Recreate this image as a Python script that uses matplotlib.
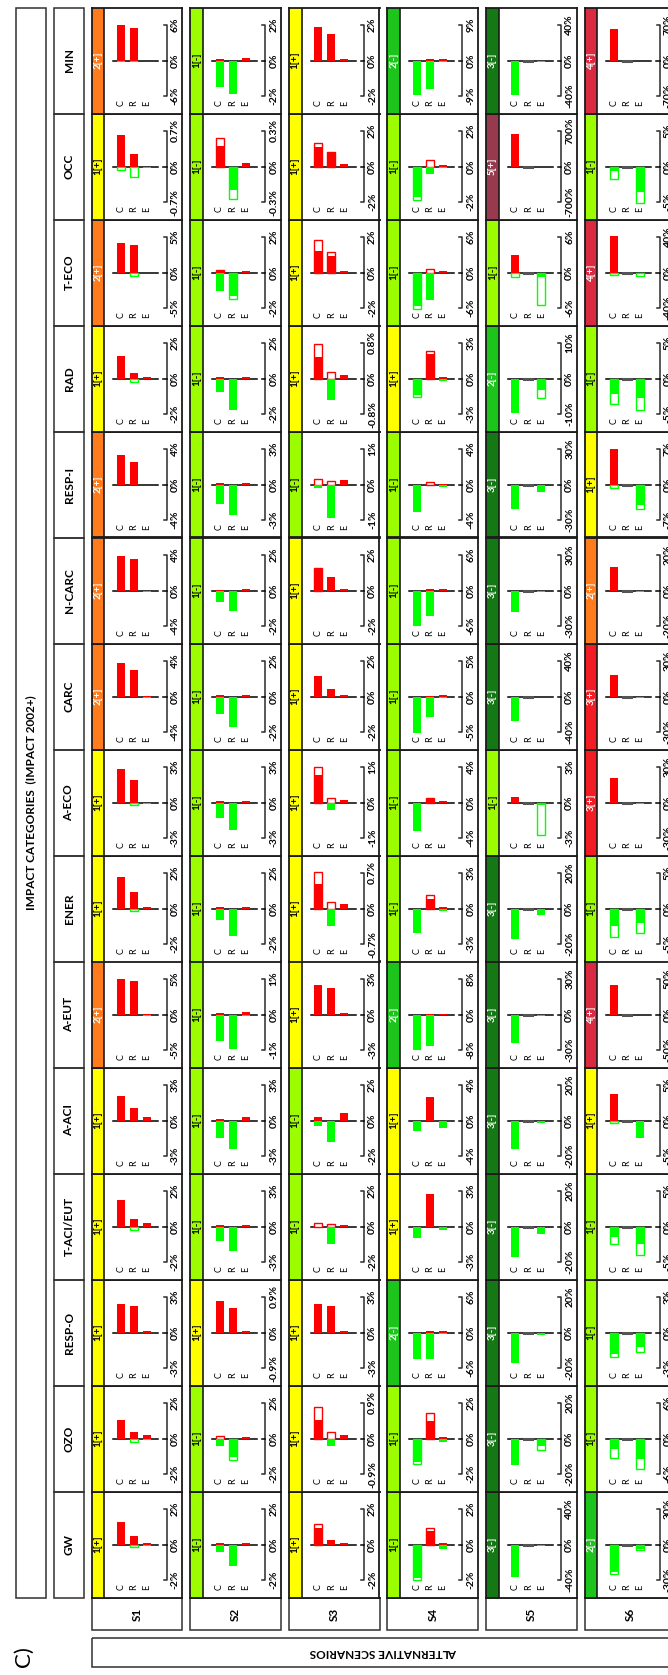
import matplotlib.pyplot as plt
from matplotlib.patches import Rectangle

plt.rcParams['font.family'] = ['Lato', 'DejaVu Sans']

# impact categories (left to right in the original table, GW ends up at the bottom)
categories = ['GW', 'OZO', 'RESP-O', 'T-ACI/EUT', 'A-ACI', 'A-EUT', 'ENER', 'A-ECO',
              'CARC', 'N-CARC', 'RESP-I', 'RAD', 'T-ECO', 'OCC', 'MIN']
scenarios = ['S1', 'S2', 'S3', 'S4', 'S5', 'S6']
bar_names = ['C', 'R', 'E']

# axis limit (+/- %) of each small chart, S1..S6
axis_max = {
    'GW':        [2, 2, 2, 2, 40, 30],
    'OZO':       [2, 2, 0.9, 2, 20, 6],
    'RESP-O':    [3, 0.9, 3, 6, 20, 3],
    'T-ACI/EUT': [2, 3, 2, 3, 20, 5],
    'A-ACI':     [3, 3, 2, 4, 20, 5],
    'A-EUT':     [5, 1, 3, 8, 30, 50],
    'ENER':      [2, 2, 0.7, 3, 20, 5],
    'A-ECO':     [3, 3, 1, 4, 3, 30],
    'CARC':      [4, 2, 2, 5, 40, 30],
    'N-CARC':    [4, 2, 2, 6, 30, 20],
    'RESP-I':    [4, 3, 1, 4, 30, 7],
    'RAD':       [2, 2, 0.8, 3, 10, 5],
    'T-ECO':     [5, 2, 2, 6, 6, 40],
    'OCC':       [0.7, 0.3, 2, 2, 700, 5],
    'MIN':       [6, 2, 2, 9, 40, 70],
}

# class of change shown in the coloured strip
ranks = {
    'GW':        ['1[+]', '1[-]', '1[+]', '1[-]', '3[-]', '2[-]'],
    'OZO':       ['1[+]', '1[-]', '1[+]', '1[-]', '3[-]', '1[-]'],
    'RESP-O':    ['1[+]', '1[+]', '1[+]', '2[-]', '3[-]', '1[-]'],
    'T-ACI/EUT': ['1[+]', '1[-]', '1[-]', '1[+]', '3[-]', '1[-]'],
    'A-ACI':     ['1[+]', '1[-]', '1[-]', '1[+]', '3[-]', '1[+]'],
    'A-EUT':     ['2[+]', '1[-]', '1[+]', '2[-]', '3[-]', '4[+]'],
    'ENER':      ['1[+]', '1[-]', '1[+]', '1[-]', '3[-]', '1[-]'],
    'A-ECO':     ['1[+]', '1[-]', '1[+]', '1[-]', '1[-]', '3[+]'],
    'CARC':      ['2[+]', '1[-]', '1[+]', '1[-]', '3[-]', '3[+]'],
    'N-CARC':    ['2[+]', '1[-]', '1[+]', '1[-]', '3[-]', '2[+]'],
    'RESP-I':    ['2[+]', '1[-]', '1[-]', '1[-]', '3[-]', '1[+]'],
    'RAD':       ['1[+]', '1[-]', '1[+]', '1[+]', '2[-]', '1[-]'],
    'T-ECO':     ['2[+]', '1[-]', '1[+]', '1[-]', '1[-]', '4[+]'],
    'OCC':       ['1[+]', '1[-]', '1[+]', '1[-]', '5[+]', '1[-]'],
    'MIN':       ['2[+]', '1[-]', '1[+]', '2[-]', '3[-]', '4[+]'],
}

# increases (%), one [C, R, E] triple per scenario
red = {
    'GW':        [[1.24, 0.45, 0.1], [0.1, 0, 0.1], [0.95, 0.25, 0.1], [0, 0.78, 0.1], [0, 0, 0], [0, 0, 0]],
    'OZO':       [[1.05, 0.38, 0.18], [0, 0, 0.1], [0.47, 0, 0.1], [0, 1.0, 0.1], [0, 0, 0], [0, 0, 0]],
    'RESP-O':    [[2.4, 2.25, 0.15], [0.8, 0.62, 0.04], [2.4, 2.25, 0.15], [0, 0.2, 0.2], [0, 0, 0], [0, 0, 0]],
    'T-ACI/EUT': [[1.5, 0.4, 0.2], [0.1, 0, 0.1], [0, 0, 0.1], [0, 2.7, 0], [0, 0, 0], [0, 0, 0]],
    'A-ACI':     [[2.1, 1.05, 0.3], [0.1, 0, 0.3], [0.2, 0, 0.4], [0, 2.6, 0], [0, 0, 0], [3.75, 0, 0]],
    'A-EUT':     [[4.95, 4.65, 0.1], [0.05, 0, 0.06], [2.52, 2.22, 0.1], [0, 0.2, 0.2], [0, 0, 0], [42, 0, 0]],
    'ENER':      [[1.74, 0.92, 0.1], [0.08, 0, 0.1], [0.49, 0, 0.085], [0, 0.8, 0.15], [0, 0, 0], [0, 0, 0]],
    'A-ECO':     [[2.85, 1.86, 0], [0.1, 0, 0.1], [0.78, 0, 0.07], [0, 0.4, 0.2], [0.45, 0, 0], [21, 0, 0]],
    'CARC':      [[3.7, 2.96, 0.1], [0.08, 0, 0.08], [1.14, 0.44, 0.1], [0, 0.1, 0.15], [0, 0, 0], [18, 0, 0]],
    'N-CARC':    [[3.9, 3.5, 0], [0.05, 0, 0.08], [1.2, 0.76, 0.08], [0, 0.2, 0.2], [0, 0, 0], [13, 0, 0]],
    'RESP-I':    [[3.3, 2.56, 0], [0.15, 0, 0.12], [0, 0, 0.14], [0, 0, 0.1], [0, 0, 0], [6.9, 0, 0]],
    'RAD':       [[1.28, 0.33, 0.08], [0.08, 0, 0.1], [0.49, 0, 0.07], [0, 2.1, 0.1], [0, 0, 0], [0, 0, 0]],
    'T-ECO':     [[4.1, 3.85, 0], [0.1, 0, 0.1], [1.22, 0.9, 0.1], [0, 0, 0.2], [3.0, 0, 0], [41, 0, 0]],
    'OCC':       [[0.62, 0.24, 0], [0.17, 0, 0.03], [1.1, 0.8, 0.14], [0, 0, 0.06], [630, 0, 0], [0, 0, 0]],
    'MIN':       [[5.9, 5.5, 0], [0.08, 0, 0.12], [1.9, 1.5, 0.1], [0, 0.3, 0.3], [0, 0, 0], [62, 0, 0]],
}

# decreases (%), same layout
green = {
    'GW':        [[-0.05, 0, -0.1], [-0.4, -1.2, 0], [0, 0, 0], [-1.87, 0, -0.25], [-36, 0, -2], [-23, 0, -3.5]],
    'OZO':       [[-0.05, 0, -0.1], [-0.4, -1.04, 0], [0, -0.2, 0], [-1.3, 0, -0.2], [-15, 0, -4], [-1.7, 0, -3.4]],
    'RESP-O':    [[-0.05, -0.05, -0.05], [0, 0, 0], [0, 0, 0], [-4.5, -4.5, -0.2], [-17, 0, -1.5], [-1.8, 0, -1.2]],
    'T-ACI/EUT': [[0, 0, 0], [-1.2, -2.1, 0], [0, -1.0, 0], [-1.0, 0, -0.3], [-17, 0, -4], [-1.5, 0, -2.5]],
    'A-ACI':     [[0, 0, 0], [-1.5, -2.4, 0], [-0.3, -1.2, 0], [-1.2, 0, -0.8], [-16, 0, -1.5], [0, 0, -2.5]],
    'A-EUT':     [[-0.1, -0.1, -0.15], [-0.75, -0.98, -0.03], [0, 0, 0], [-8, -7, -0.2], [-24, 0, -1.5], [-1, 0, -1]],
    'ENER':      [[0, 0, -0.05], [-0.62, -1.52, -0.05], [0, -0.35, 0], [-2.1, 0, -0.2], [-17, 0, -3.5], [-2.5, 0, -2.0]],
    'A-ECO':     [[-0.05, 0, -0.1], [-1.3, -2.28, 0], [0, -0.2, 0], [-3.2, 0, 0], [0, 0, -0.2], [-0.5, 0, -1]],
    'CARC':      [[-0.1, -0.1, -0.15], [-1.0, -1.7, -0.05], [0, 0, 0], [-5.1, -2.85, -0.15], [-28, 0, -1], [0, 0, -1]],
    'N-CARC':    [[-0.1, -0.1, -0.15], [-0.66, -1.16, 0], [0, 0, 0], [-6, -4.3, -0.1], [-18, 0, -1], [0, 0, -1]],
    'RESP-I':    [[-0.1, -0.1, -0.1], [-1.65, -2.55, 0], [-0.1, -0.95, 0], [-3.1, 0, -0.3], [-21, 0, -6.3], [0, 0, -4.1]],
    'RAD':       [[0, 0, -0.05], [-0.76, -1.74, 0], [0, -0.49, 0], [-1.38, 0, -0.2], [-9.6, 0, -3.1], [-2.2, 0, -2.8]],
    'T-ECO':     [[-0.1, 0, -0.1], [-1.04, -1.34, 0], [0, 0, 0], [-5.64, -4.6, 0], [0, 0, -0.72], [0, 0, -2]],
    'OCC':       [[0, 0, -0.03], [0, -0.2, 0], [0, 0, 0], [-1.72, -0.4, -0.06], [-10, 0, -10], [-0.7, 0, -3.6]],
    'MIN':       [[-0.2, -0.2, -0.15], [-1.48, -1.9, -0.05], [0, 0, 0], [-8.6, -7.3, -0.3], [-38.4, 0, -1.5], [-1, 0, -1.5]],
}

# open (outlined) part of a bar: (category, scenario index, bar index, end value %)
red_open = [
    ('GW', 2, 0, 1.13), ('GW', 3, 1, 0.9),
    ('OZO', 1, 0, 0.13), ('OZO', 2, 0, 0.8), ('OZO', 2, 1, 0.17), ('OZO', 3, 1, 1.42),
    ('T-ACI/EUT', 2, 0, 0.2), ('T-ACI/EUT', 2, 1, 0.15),
    ('ENER', 2, 0, 0.72), ('ENER', 2, 1, 0.12), ('ENER', 3, 1, 1.1),
    ('A-ECO', 2, 0, 1.0), ('A-ECO', 2, 1, 0.13), ('A-ECO', 3, 1, 0.56),
    ('N-CARC', 2, 0, 1.26),
    ('RESP-I', 2, 0, 0.16), ('RESP-I', 2, 1, 0.1), ('RESP-I', 3, 1, 0.24),
    ('RAD', 2, 0, 0.77), ('RAD', 2, 1, 0.14), ('RAD', 3, 1, 2.3),
    ('T-ECO', 1, 0, 0.16), ('T-ECO', 2, 0, 1.8), ('T-ECO', 2, 1, 1.14), ('T-ECO', 3, 1, 0.6),
    ('OCC', 1, 0, 0.24), ('OCC', 2, 0, 1.34), ('OCC', 2, 1, 0.84), ('OCC', 3, 1, 0.38),
]
green_open = [
    ('GW', 0, 1, -0.15), ('GW', 3, 0, -2.0), ('GW', 5, 0, -24.5), ('GW', 5, 2, -4.5),
    ('OZO', 0, 1, -0.2), ('OZO', 1, 1, -1.18), ('OZO', 3, 0, -1.45), ('OZO', 4, 2, -6.2),
    ('OZO', 5, 0, -3.2), ('OZO', 5, 2, -5.2),
    ('RESP-O', 5, 0, -2.1), ('RESP-O', 5, 2, -1.6),
    ('T-ACI/EUT', 0, 1, -0.2), ('T-ACI/EUT', 5, 0, -2.5), ('T-ACI/EUT', 5, 2, -4.0),
    ('A-ACI', 5, 0, -0.4),
    ('ENER', 0, 1, -0.16), ('ENER', 5, 0, -4.0), ('ENER', 5, 2, -3.5),
    ('A-ECO', 0, 1, -0.2), ('A-ECO', 4, 2, -2.7),
    ('RESP-I', 5, 0, -0.7), ('RESP-I', 5, 2, -4.9),
    ('RAD', 0, 1, -0.2), ('RAD', 3, 0, -1.56), ('RAD', 4, 2, -5.4), ('RAD', 5, 0, -3.6), ('RAD', 5, 2, -4.4),
    ('T-ECO', 0, 1, -0.5), ('T-ECO', 1, 1, -1.48), ('T-ECO', 3, 0, -6.1), ('T-ECO', 4, 0, -0.84),
    ('T-ECO', 4, 2, -5.5), ('T-ECO', 5, 0, -2.8), ('T-ECO', 5, 2, -4),
    ('OCC', 0, 0, -0.06), ('OCC', 0, 1, -0.21), ('OCC', 1, 1, -0.27), ('OCC', 3, 0, -1.88),
    ('OCC', 5, 0, -1.75), ('OCC', 5, 2, -5.1),
]

rank_colors = {
    '1[+]': ('#FFFF00', 'black'), '1[-]': ('#9CFC00', 'black'),
    '2[+]': ('#FF7B1C', 'white'), '2[-]': ('#1CC41C', 'white'),
    '3[+]': ('#F21C24', 'white'), '3[-]': ('#147814', 'white'),
    '4[+]': ('#D92A42', 'white'), '5[+]': ('#973A4E', 'white'),
}

W, H = 668, 1675
fig = plt.figure(figsize=(W / 100, H / 100), dpi=100)


def px_axes(x, y, w, h, **kw):
    # rectangle given in pixels from the top-left corner
    return fig.add_axes([x / W, 1 - (y + h) / H, w / W, h / H], **kw)


# grid geometry in pixels
top0, row_h = 7.5, 106.0
col0, col_step, cell_w = 91.7, 98.6, 90.6
n_rows = len(categories)
grid_bottom = top0 + n_rows * row_h

# frame boxes and headers drawn on one overlay
bg = px_axes(0, 0, W, H)
bg.set_xlim(0, W)
bg.set_ylim(H, 0)
bg.axis('off')
frame = dict(fill=False, ec='#303030', lw=1.1)
bg.add_patch(Rectangle((16, top0), 30, grid_bottom - top0, **frame))
bg.text(31, (top0 + grid_bottom) / 2, 'IMPACT CATEGORIES  (IMPACT 2002+)', rotation=90,
        ha='center', va='center', fontsize=8.5, weight='bold')
for i, cat in enumerate(categories):
    top = top0 + (n_rows - 1 - i) * row_h
    bg.add_patch(Rectangle((54, top), 30, row_h, **frame))
    bg.text(69, top + row_h / 2, cat, rotation=90, ha='center', va='center',
            fontsize=8.5, weight='bold')
for j, s in enumerate(scenarios):
    left = col0 + j * col_step
    bg.add_patch(Rectangle((left, grid_bottom), cell_w, 32.5, **frame))
    bg.text(left + cell_w / 2, grid_bottom + 16.5, s, rotation=90, ha='center', va='center',
            fontsize=8.5, weight='bold')
bg.add_patch(Rectangle((col0, 1638), 5 * col_step + cell_w, 29, **frame))
bg.text(col0 + (5 * col_step + cell_w) / 2, 1652.5, 'ALTERNATIVE SCENARIOS', rotation=180,
        ha='center', va='center', fontsize=8.5, weight='bold')
bg.text(24, 1657, 'C)', rotation=90, ha='center', va='center', fontsize=16)

# bar positions in data units: one unit = 13 px, first bar 29.3 px into the cell
xs = [0, 1, 2]
bw = 0.62
x_lo, x_hi = -29.3 / 13, (cell_w - 29.3) / 13
strip_edge = (12.6 - 29.3) / 13
x_axis = (75 - 29.3) / 13
x_lab = (83.6 - 29.3) / 13
span = row_h / 2 / 35.7   # axis limit sits 35.7 px from the zero line

for i, cat in enumerate(categories):
    top = top0 + (n_rows - 1 - i) * row_h
    for j in range(len(scenarios)):
        L = axis_max[cat][j]
        ax = px_axes(col0 + j * col_step, top, cell_w, row_h)
        ax.set_xlim(x_lo, x_hi)
        ax.set_ylim(-span * L, span * L)
        ax.set_xticks([])
        ax.set_yticks([])
        for sp in ax.spines.values():
            sp.set_linewidth(1.3)
            sp.set_color('#1a1a1a')

        fc, tc = rank_colors[ranks[cat][j]]
        ax.axvspan(x_lo, strip_edge, color=fc, lw=0, zorder=0)
        ax.axvline(strip_edge, color='#1a1a1a', lw=1.2)
        ax.text((x_lo + strip_edge) / 2, 0, ranks[cat][j], rotation=90, ha='center',
                va='center', fontsize=7, weight='bold', color=tc)

        # zero line and the bracket-shaped value axis
        ax.plot([-0.59, 2.87], [0, 0], color='black', lw=1.1, zorder=1)
        ax.plot([x_axis - 0.24, x_axis, x_axis, x_axis - 0.24], [L, L, -L, -L],
                color='#2a2a2a', lw=1.1)
        ax.plot([x_axis - 0.26, x_axis], [0, 0], color='black', lw=1.1)
        for v in (-L, 0, L):
            ax.text(x_lab, v, f'{v:g}%', rotation=90, ha='center', va='center',
                    fontsize=7.5, weight='bold')
        for k, name in enumerate(bar_names):
            ax.text(k, -1.2 * L, name, rotation=90, ha='center', va='center', fontsize=6.5)

        r_open = [0, 0, 0]
        g_open = [0, 0, 0]
        for c, s, k, v in red_open:
            if c == cat and s == j:
                r_open[k] = v
        for c, s, k, v in green_open:
            if c == cat and s == j:
                g_open[k] = v

        ax.bar(xs, r_open, bw, color='white', edgecolor=['red' if v else 'none' for v in r_open],
               lw=1.0, zorder=2)
        ax.bar(xs, g_open, bw, color='white', edgecolor=['#00FF00' if v else 'none' for v in g_open],
               lw=1.0, zorder=2)
        ax.bar(xs, red[cat][j], bw, color='#FF0000', lw=0, zorder=3)
        ax.bar(xs, green[cat][j], bw, color='#00FF00', lw=0, zorder=3)

        # bars with no change at all get a flat grey mark
        for k in xs:
            if red[cat][j][k] == 0 and green[cat][j][k] == 0 and r_open[k] == 0 and g_open[k] == 0:
                ax.plot([k - bw / 2, k + bw / 2], [0, 0], color='#555555', lw=2.2, zorder=4)

fig.savefig('out.png', dpi=100)
